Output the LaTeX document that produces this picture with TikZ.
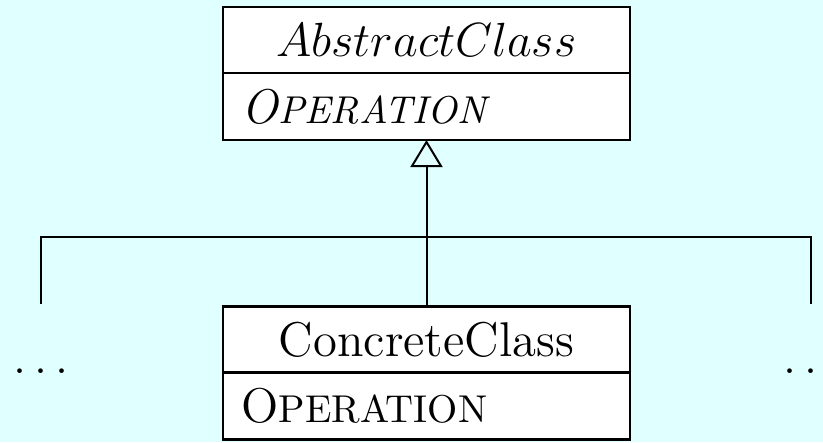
\documentclass[tikz,border=0pt]{standalone}
\usetikzlibrary{arrows.meta}
\definecolor{bgcyan}{RGB}{224,255,255}
\newcommand{\ismallcaps}[2]{\textit{#1{\fontsize{9.7}{11}\selectfont #2}}}
\newcommand{\usmallcaps}[2]{#1{\fontsize{9.7}{11}\selectfont #2}}
\begin{document}
\begin{tikzpicture}[x=0.25pt,y=-0.25pt,
  every node/.style={font=\fontsize{12.2}{14}\selectfont},
  part/.style={draw,line width=0.55pt,fill=white,minimum width=101.75pt,inner sep=0pt,outer sep=0pt},
  namepart/.style={part,minimum height=16.5pt},
  oppart/.style={part,minimum height=16.75pt,text width=92.5pt,align=left},
  link/.style={line width=0.5pt},
  dots/.style={inner sep=0pt}]
\fill[bgcyan] (0,0) rectangle (823,442);
\useasboundingbox (0,0) rectangle (823,442);
% abstract class
\node[namepart] (absname) at (426.5,40) {$AbstractClass$};
\node[oppart,anchor=north] (absop) at (absname.south) {\ismallcaps{O}{PERATION}};
% concrete class
\node[namepart] (conname) at (426.5,339.5) {ConcreteClass};
\node[oppart,anchor=north] (conop) at (conname.south) {\usmallcaps{O}{PERATION}};
% generalization arrow and branch lines
\coordinate (junction) at (426.5,237);
\coordinate (lend) at (41,304);
\coordinate (rend) at (811,304);
\draw[link,-{Triangle[open,width=8pt,length=6.75pt]}] (conname.north) -- (absop.south);
\draw[link] (lend) |- (junction) -| (rend);
% elided siblings
\node[dots] (ldots) at (41,371) {$\ldots$};
\node[dots] (rdots) at (811,371) {$\ldots$};
\end{tikzpicture}
\end{document}
